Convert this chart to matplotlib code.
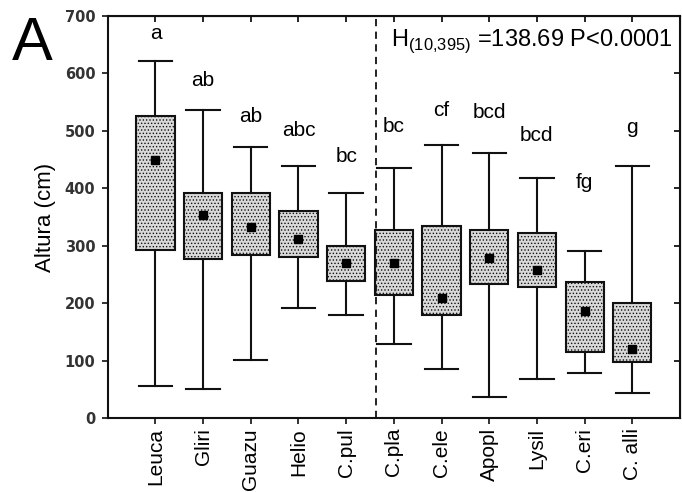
import numpy as np
import matplotlib
matplotlib.use("Agg")
import matplotlib.pyplot as plt

# data (cm)
groups = ["Leuca", "Gliri", "Guazu", "Helio", "C.pul", "C.pla", "C.ele", "Apopl", "Lysil", "C.eri", "C. alli"]
whis_lo = [56, 50, 101, 192, 179, 129, 85, 37, 69, 78, 43]
q1 = [292, 277, 284, 280, 239, 214, 179, 233, 229, 116, 97]
medians = [449, 354, 332, 311, 270, 270, 209, 279, 257, 187, 120]
q3 = [525, 391, 391, 360, 299, 328, 334, 328, 322, 237, 201]
whis_hi = [622, 536, 471, 439, 391, 436, 476, 461, 418, 290, 439]
letters = ["a", "ab", "ab", "abc", "bc", "bc", "cf", "bcd", "bcd", "fg", "g"]
letter_y = [669, 587, 524, 500, 455, 508, 535, 532, 491, 410, 506]

plt.rcParams['font.family'] = ['Liberation Sans', 'DejaVu Sans']
plt.rcParams['hatch.color'] = '#a5a5a5'
plt.rcParams['hatch.linewidth'] = 0.6

fig = plt.figure(figsize=(6.82, 4.92), dpi=100)
ax = fig.add_axes([0.158, 0.150, 0.839, 0.818])

pos = np.arange(len(groups))
stats = []
for i, g in enumerate(groups):
    stats.append({"label": g, "med": medians[i], "q1": q1[i], "q3": q3[i],
                  "whislo": whis_lo[i], "whishi": whis_hi[i], "fliers": []})

bp = ax.bxp(stats, positions=pos, widths=0.8, capwidths=0.7, patch_artist=True,
            showfliers=False,
            boxprops=dict(facecolor='#d9d9d9', edgecolor='#111111', linewidth=1.5, hatch='.....'),
            whiskerprops=dict(color='#111111', linewidth=1.5),
            capprops=dict(color='#111111', linewidth=1.5),
            medianprops=dict(visible=False))
ax.plot(pos, medians, 's', color='black', markersize=5.5, zorder=5)

for i, lab in enumerate(letters):
    ax.text(pos[i], letter_y[i], lab, ha='center', va='center', fontsize=15)

ax.axvline(4.62, color='#111111', linestyle=(0, (4, 3)), linewidth=1.3)

ax.set_xlim(-1, 11)
ax.set_ylim(0, 700)
ax.set_xticks(pos)
ax.set_xticklabels(groups, rotation=90, fontsize=15)
ax.set_yticks(np.arange(0, 701, 100))
ax.set_yticklabels([str(v) for v in range(0, 701, 100)],
                   family='DejaVu Sans', fontweight='bold', fontsize=10.5, color='#333333')
ax.tick_params(axis='both', direction='out', length=4, width=1.2, color='#111111')
ax.tick_params(axis='x', pad=3)
ax.tick_params(axis='y', pad=5)
for sp in ax.spines.values():
    sp.set_linewidth(1.5)
    sp.set_color('#111111')

top = ax.secondary_xaxis('top')
top.set_xticks(pos)
top.set_xticklabels([])
top.tick_params(direction='in', length=4, width=1.2)
right = ax.secondary_yaxis('right')
right.set_yticks(np.arange(0, 701, 100))
right.set_yticklabels([])
right.tick_params(direction='in', length=4, width=1.2)

ax.set_ylabel("Altura (cm)", fontsize=16, labelpad=6)

ax.text(4.93, 655, r"H$_{\mathregular{(10{,}395)}}$ =138.69 P<0.0001", fontsize=17,
        ha='left', va='center')
fig.text(0.018, 0.878, "A", fontsize=44, va='baseline', ha='left')

fig.savefig("out.png", dpi=100)
